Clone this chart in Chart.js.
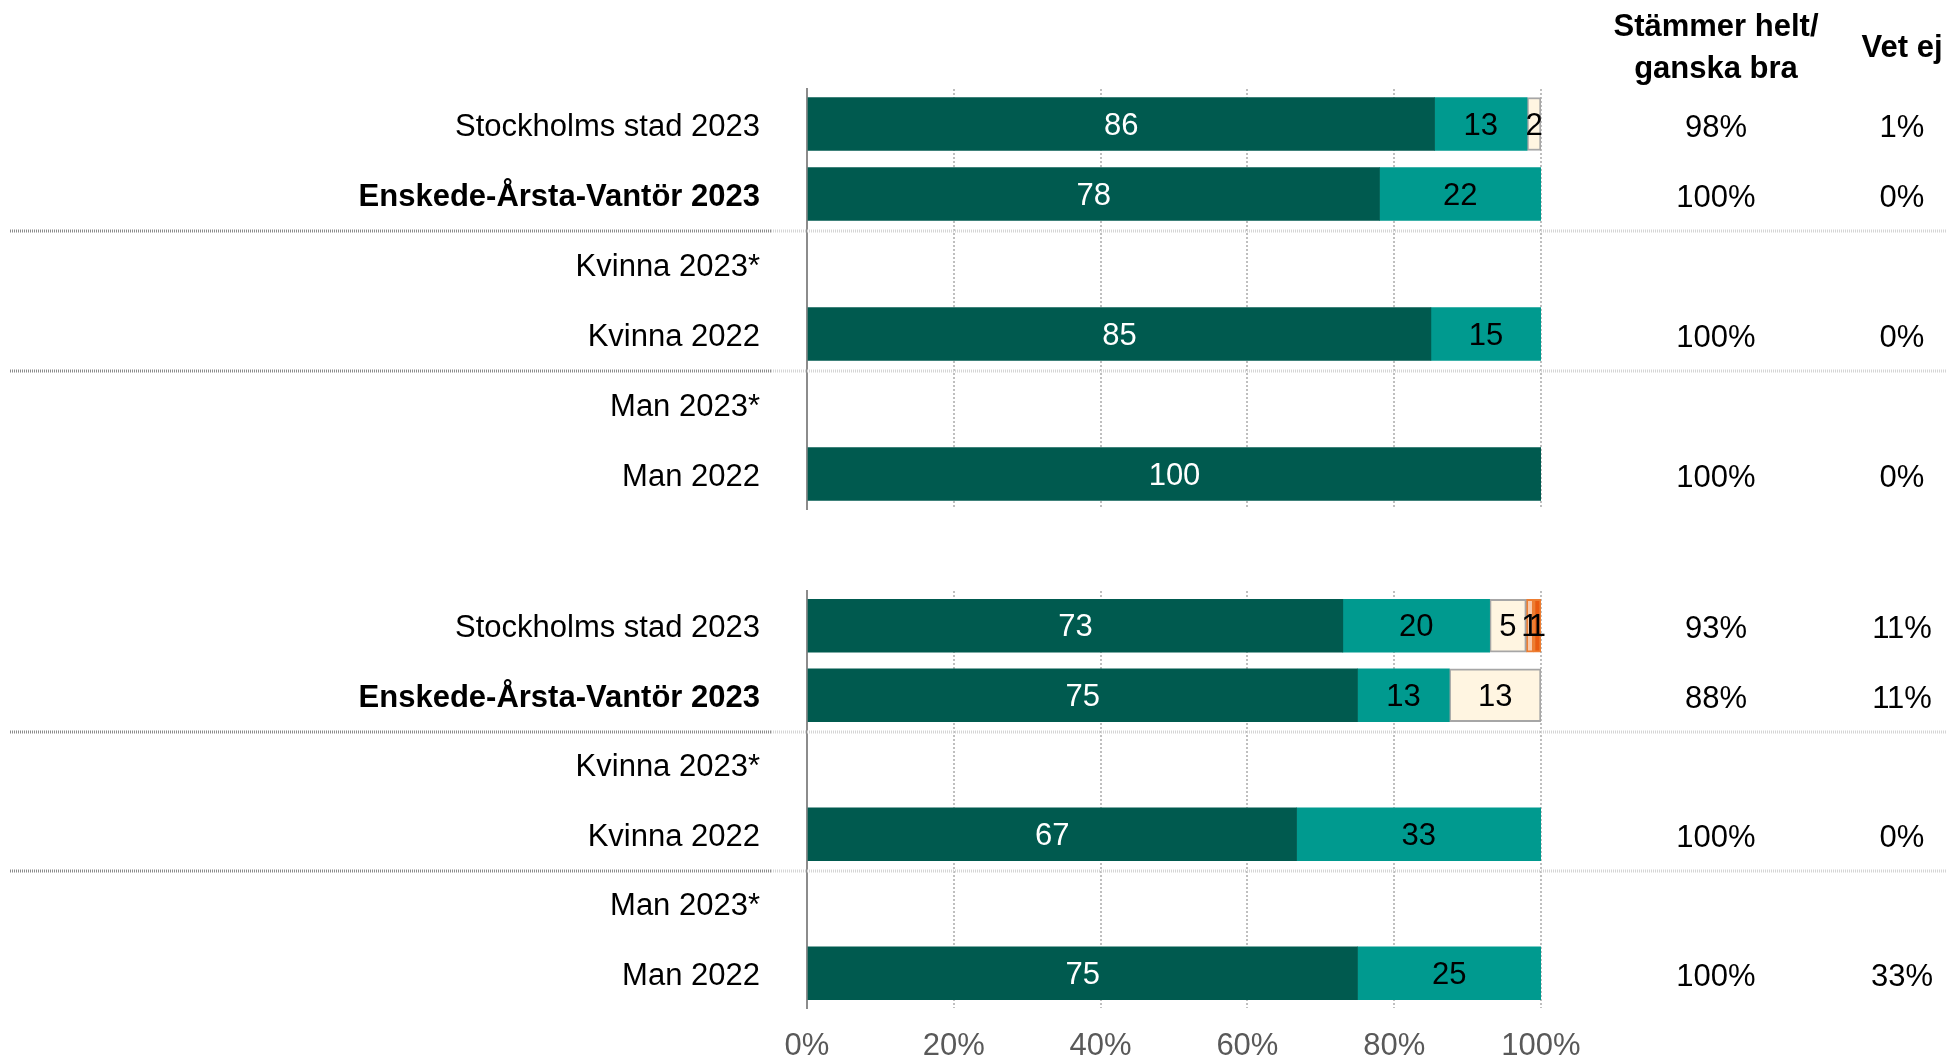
<!DOCTYPE html>
<html>
<head>
<meta charset="utf-8">
<script src="https://cdn.jsdelivr.net/npm/chart.js@4/dist/chart.umd.min.js"></script>
<style>
  html, body { margin: 0; padding: 0; background: #fff; }
  #wrap { position: relative; width: 1947px; height: 1061px; overflow: hidden; }
  canvas { position: absolute; left: 0; }
  #top { top: 0; }
  #bottom { top: 540px; }
</style>
</head>
<body>
<div id="wrap">
  <canvas id="top" width="1947" height="540"></canvas>
  <canvas id="bottom" width="1947" height="521"></canvas>
</div>
<script>
const FONT = '"Liberation Sans", Arial, sans-serif';

const categories = ['Stockholms stad 2023', 'Enskede-Årsta-Vantör 2023', 'Kvinna 2023*', 'Kvinna 2022', 'Man 2023*', 'Man 2022'];
const xTicks = [0, 20, 40, 60, 80, 100];
const seriesNames = ['Stämmer helt', 'Stämmer ganska bra', 'Stämmer ganska dåligt', 'Stämmer inte alls', 'Stämmer inte alls (annat)'];
const seriesColors = ['#005A4F', '#009A8F', '#FFF5E1', '#F8CBAD', '#E85A10'];
const seriesBorders = [null, null, '#A6A6A6', '#ED7D31', '#ED7D31'];

// top panel
const topHelt    = [85.5, 78, null, 85, null, 100];
const topGanska  = [12.6, 22, null, 15, null, 0];
const topDaligt  = [1.9, 0, null, 0, null, 0];
const topInte    = [0, 0, null, 0, null, 0];
const topInte2   = [0, 0, null, 0, null, 0];
const topBra     = ['98%', '100%', '', '100%', '', '100%'];
const topVetEj   = ['1%', '0%', '', '0%', '', '0%'];

// bottom panel
const botHelt    = [73, 75, null, 66.7, null, 75];
const botGanska  = [20, 12.5, null, 33.3, null, 25];
const botDaligt  = [5, 12.5, null, 0, null, 0];
const botInte    = [1, 0, null, 0, null, 0];
const botInte2   = [1, 0, null, 0, null, 0];
const botBra     = ['93%', '88%', '', '100%', '', '100%'];
const botVetEj   = ['11%', '11%', '', '0%', '', '33%'];

const COL_BRA = 1716, COL_VET = 1902;

function makeDatasets(series) {
  return series.map((data, i) => ({
    label: seriesNames[i],
    data: data,
    backgroundColor: seriesColors[i],
    borderColor: seriesBorders[i] || seriesColors[i],
    borderWidth: seriesBorders[i] ? 2 : 0,
    borderSkipped: false,
    barThickness: 53,
  }));
}

const barLabels = {
  id: 'barLabels',
  afterDatasetsDraw(chart) {
    const ctx = chart.ctx;
    ctx.save();
    ctx.font = '31px ' + FONT;
    ctx.textAlign = 'center';
    ctx.textBaseline = 'middle';
    chart.data.datasets.forEach((ds, di) => {
      chart.getDatasetMeta(di).data.forEach((bar, i) => {
        const v = ds.data[i];
        if (!v) return;
        ctx.fillStyle = di === 0 ? '#fff' : '#000';
        ctx.fillText(String(Math.round(v)), (bar.base + bar.x) / 2, bar.y + 2);
      });
    });
    ctx.restore();
  }
};

const sideColumns = {
  id: 'sideColumns',
  afterDraw(chart, args, opts) {
    const ctx = chart.ctx;
    const y = chart.scales.y;
    ctx.save();
    // separators between groups
    [1, 3].forEach(i => {
      const yy = Math.round((y.getPixelForValue(i) + y.getPixelForValue(i + 1)) / 2) + 2;
      ctx.lineWidth = 3;
      ctx.setLineDash([1, 1]);
      ctx.strokeStyle = '#8C8C8C';
      ctx.beginPath(); ctx.moveTo(10, yy); ctx.lineTo(771, yy); ctx.stroke();
      ctx.strokeStyle = '#D4D4D4';
      ctx.beginPath(); ctx.moveTo(771, yy); ctx.lineTo(1947, yy); ctx.stroke();
    });
    ctx.setLineDash([]);
    ctx.font = '31px ' + FONT;
    ctx.fillStyle = '#000';
    ctx.textAlign = 'center';
    ctx.textBaseline = 'middle';
    categories.forEach((c, i) => {
      const yy = y.getPixelForValue(i) + 4;
      ctx.fillText(opts.bra[i], COL_BRA, yy);
      ctx.fillText(opts.vet[i], COL_VET, yy);
    });
    if (opts.header) {
      ctx.font = 'bold 31px ' + FONT;
      ctx.fillText('Stämmer helt/', COL_BRA, 27);
      ctx.fillText('ganska bra', COL_BRA, 69);
      ctx.fillText('Vet ej', COL_VET, 48);
    }
    ctx.restore();
  }
};

function makeChart(id, series, bra, vet, showTicks, padTop, xHeight) {
  return new Chart(document.getElementById(id), {
    type: 'bar',
    data: { labels: categories, datasets: makeDatasets(series) },
    plugins: [barLabels, sideColumns],
    options: {
      responsive: false,
      animation: false,
      indexAxis: 'y',
      layout: { padding: { top: padTop, left: 0, right: 406, bottom: 0 } },
      plugins: {
        legend: { display: false },
        tooltip: { enabled: false },
        sideColumns: { bra: bra, vet: vet, header: !showTicks },
      },
      scales: {
        x: {
          stacked: true,
          min: 0,
          max: 100,
          afterBuildTicks: s => { s.ticks = xTicks.map(v => ({ value: v })); },
          afterFit: s => { s.height = xHeight; s.paddingLeft = 0; s.paddingRight = 0; },
          border: { display: false, dash: [2, 2] },
          grid: {
            drawTicks: false,
            color: c => (c.tick && c.tick.value === 0) ? 'rgba(0,0,0,0)' : '#BFBFBF',
            lineWidth: 2,
          },
          ticks: {
            display: showTicks,
            padding: 20,
            color: '#595959',
            font: { size: 31, family: FONT },
            callback: v => v + '%',
          },
        },
        y: {
          stacked: true,
          afterFit: s => { s.width = 807; s.paddingTop = 0; s.paddingBottom = 0; },
          grid: { display: false, drawTicks: false },
          border: { display: true, color: '#8C8C8C', width: 2 },
          ticks: {
            padding: 47,
            labelOffset: 3,
            color: '#000',
            font: c => ({ size: 31, family: FONT, weight: c.index === 1 ? 'bold' : 'normal' }),
          },
        },
      },
    },
  });
}

makeChart('top', [topHelt, topGanska, topDaligt, topInte, topInte2], topBra, topVetEj, false, 89, 31);
makeChart('bottom', [botHelt, botGanska, botDaligt, botInte, botInte2], botBra, botVetEj, true, 51, 53);
</script>
</body>
</html>
